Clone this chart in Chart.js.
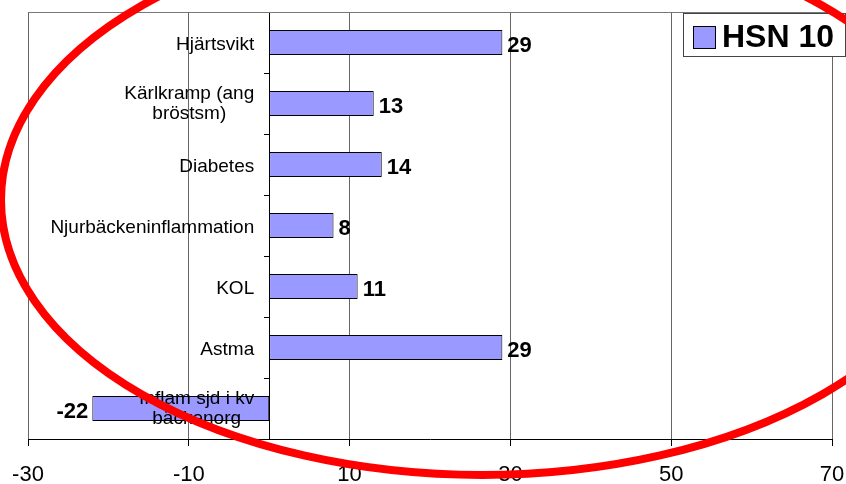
<!DOCTYPE html>
<html>
<head>
<meta charset="utf-8">
<script src="https://cdn.jsdelivr.net/npm/chart.js@4/dist/chart.umd.min.js"></script>
<style>
  html, body { margin: 0; padding: 0; background: #fff; }
  #wrap { width: 846px; height: 484px; }
</style>
</head>
<body>
<div id="wrap"><canvas id="myChart"></canvas></div>
<script>
// data
const categories = ['Hjärtsvikt', ['Kärlkramp (ang', 'bröstsm)'], 'Diabetes', 'Njurbäckeninflammation', 'KOL', 'Astma', ['Inflam sjd i kv', 'bäckenorg']];
const seriesName = 'HSN 10';
const hsn10 = [29, 13, 14, 8, 11, 29, -22];
const xTicks = [-30, -10, 10, 30, 50, 70];

const FONT = 'Arial, "Liberation Sans", sans-serif';
const barColor = '#9999ff';

// category labels, value labels, legend box and the red marker ring
const decor = {
  id: 'decor',
  beforeDatasetsDraw(chart) {
    const { ctx, chartArea } = chart;
    ctx.save();
    ctx.strokeStyle = '#777';
    ctx.lineWidth = 1;
    ctx.beginPath();
    ctx.moveTo(chartArea.left, Math.round(chartArea.top) + 0.5);
    ctx.lineTo(chartArea.right, Math.round(chartArea.top) + 0.5);
    ctx.stroke();
    ctx.restore();
  },
  afterDatasetsDraw(chart) {
    const { ctx } = chart;
    const xs = chart.scales.x, ys = chart.scales.y;
    const zero = xs.getPixelForValue(0);
    ctx.save();

    // category names left of the zero axis
    ctx.font = '19px ' + FONT;
    ctx.fillStyle = '#000';
    ctx.textAlign = 'center';
    ctx.textBaseline = 'alphabetic';
    categories.forEach((c, i) => {
      const lines = Array.isArray(c) ? c : [c];
      const w = Math.max(...lines.map(l => ctx.measureText(l).width));
      const cx = zero - 15 - w / 2;
      const cy = ys.getPixelForValue(i) - (lines.length > 1 ? 2 : 0);
      lines.forEach((l, k) => {
        const ly = cy + (k - (lines.length - 1) / 2) * 20;
        ctx.fillText(l, cx, ly + 7);
      });
    });

    // value labels
    ctx.font = 'bold 22px ' + FONT;
    const meta = chart.getDatasetMeta(0);
    meta.data.forEach((bar, i) => {
      const v = hsn10[i];
      if (v >= 0) {
        ctx.textAlign = 'left';
        ctx.fillText(String(v), bar.x + 5, bar.y + 9);
      } else {
        ctx.textAlign = 'right';
        ctx.fillText(String(v), bar.x - 4, bar.y + 9);
      }
    });
    ctx.restore();
  },
  afterDraw(chart) {
    const { ctx } = chart;
    ctx.save();

    // legend
    ctx.fillStyle = '#fff';
    ctx.fillRect(683.5, 13.5, 162, 43);
    ctx.strokeStyle = '#444';
    ctx.lineWidth = 1;
    ctx.strokeRect(683.5, 13.5, 162, 43);
    ctx.fillStyle = barColor;
    ctx.fillRect(693.5, 26.5, 22, 22);
    ctx.strokeStyle = '#000';
    ctx.strokeRect(693.5, 26.5, 22, 22);
    ctx.fillStyle = '#000';
    ctx.font = 'bold 32px ' + FONT;
    ctx.textAlign = 'left';
    ctx.textBaseline = 'alphabetic';
    ctx.fillText(chart.data.datasets[0].label, 722, 47);

    // red ring drawn over the chart
    ctx.strokeStyle = '#ff0000';
    ctx.lineWidth = 8;
    ctx.beginPath();
    ctx.ellipse(482, 200, 481, 275, 0, 0, Math.PI * 2);
    ctx.stroke();
    ctx.restore();
  }
};

const ctx = document.getElementById('myChart').getContext('2d');
const myChart = new Chart(ctx, {
  type: 'bar',
  data: {
    labels: categories,
    datasets: [{
      label: seriesName,
      data: hsn10,
      backgroundColor: barColor,
      borderColor: '#000',
      borderWidth: 1,
      borderSkipped: false,
      barPercentage: 0.41,
      categoryPercentage: 1
    }]
  },
  options: {
    indexAxis: 'y',
    responsive: true,
    maintainAspectRatio: false,
    animation: false,
    devicePixelRatio: 1,
    layout: { padding: { left: 28, right: 14, top: 12, bottom: 0 } },
    plugins: {
      legend: { display: false },
      tooltip: { enabled: false }
    },
    scales: {
      x: {
        type: 'linear',
        min: xTicks[0],
        max: xTicks[xTicks.length - 1],
        ticks: {
          stepSize: xTicks[1] - xTicks[0],
          color: '#000',
          font: { family: FONT, size: 22 },
          padding: 16
        },
        grid: { color: '#666', tickColor: '#000', tickLength: 7 },
        border: { color: '#000' },
        afterFit(s) {
          s.height = 45;
          s.paddingLeft = 0;
          s.paddingRight = 0;
        }
      },
      y: {
        type: 'category',
        position: { x: 0 },
        ticks: { display: false },
        grid: { drawOnChartArea: false, tickLength: 5, color: '#000', offset: true },
        border: { display: true, color: '#000' },
        afterFit(s) { s.width = 0; }
      }
    }
  },
  plugins: [decor]
});
</script>
</body>
</html>
